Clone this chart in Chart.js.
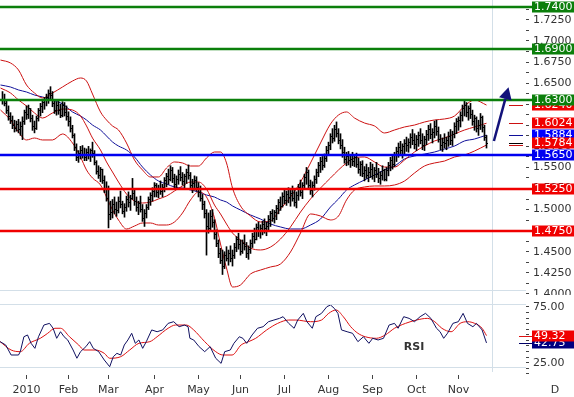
<!DOCTYPE html>
<html>
<head>
<meta charset="utf-8">
<script src="https://cdn.jsdelivr.net/npm/chart.js@4.4.1/dist/chart.umd.min.js"></script>
<style>
  body { margin: 0; background: #fff; }
  #main { position: absolute; left: 0; top: 0; width: 574px; height: 297px; }
  #rsi { position: absolute; left: 0; top: 295px; width: 574px; height: 102px; background: #fff; }
</style>
</head>
<body>
<div id="main"><canvas id="priceChart"></canvas></div>
<div id="rsi"><canvas id="rsiChart"></canvas></div>
<script>
Chart.defaults.font.family = 'DejaVu Sans';
Chart.defaults.font.size = 11;
Chart.defaults.color = '#333';

// daily bars, x = trading-day index (0 = 1 Jan 2010)
var firstBar = -12;
var highs = [
  1.6400,1.6370,1.6300,1.6230,1.6150,1.6110,1.6060,1.6050,1.6070,1.6040,
  1.6100,1.6180,1.6230,1.6240,1.6200,1.6120,1.6050,1.6110,1.6200,1.6260,
  1.6300,1.6330,1.6370,1.6420,1.6458,1.6400,1.6300,1.6280,1.6300,1.6250,
  1.6280,1.6270,1.6230,1.6160,1.6100,1.6000,1.5900,1.5780,1.5700,1.5750,
  1.5760,1.5730,1.5720,1.5750,1.5720,1.5800,1.5700,1.5580,1.5520,1.5500,
  1.5480,1.5400,1.5330,1.5280,1.5100,1.5120,1.5150,1.5090,1.5150,1.5220,
  1.5100,1.5070,1.5160,1.5210,1.5170,1.5370,1.5250,1.5150,1.5100,1.5160,
  1.5060,1.5000,1.5060,1.5150,1.5200,1.5260,1.5320,1.5310,1.5290,1.5340,
  1.5300,1.5380,1.5430,1.5480,1.5520,1.5500,1.5420,1.5400,1.5470,1.5510,
  1.5440,1.5420,1.5480,1.5530,1.5440,1.5360,1.5400,1.5390,1.5320,1.5280,
  1.5180,1.5100,1.5000,1.4960,1.4990,1.5000,1.4880,1.4760,1.4640,1.4540,
  1.4520,1.4500,1.4560,1.4520,1.4570,1.4520,1.4600,1.4680,1.4720,1.4640,
  1.4640,1.4700,1.4610,1.4570,1.4640,1.4720,1.4780,1.4830,1.4850,1.4820,
  1.4860,1.4890,1.4850,1.4930,1.4980,1.5000,1.4990,1.5050,1.5120,1.5150,
  1.5200,1.5240,1.5220,1.5260,1.5230,1.5280,1.5230,1.5210,1.5300,1.5350,
  1.5320,1.5420,1.5500,1.5470,1.5350,1.5330,1.5400,1.5480,1.5560,1.5620,
  1.5630,1.5660,1.5750,1.5800,1.5900,1.5960,1.6000,1.6040,1.5960,1.5900,
  1.5830,1.5740,1.5680,1.5690,1.5640,1.5680,1.5650,1.5670,1.5610,1.5570,
  1.5580,1.5510,1.5540,1.5500,1.5560,1.5540,1.5500,1.5560,1.5490,1.5450,
  1.5520,1.5480,1.5500,1.5560,1.5620,1.5650,1.5680,1.5740,1.5790,1.5810,
  1.5780,1.5830,1.5860,1.5840,1.5900,1.5950,1.5900,1.5880,1.5920,1.5960,
  1.5900,1.5870,1.5940,1.6000,1.6020,1.5960,1.6050,1.6060,1.5980,1.5890,
  1.5850,1.5900,1.5860,1.5920,1.5950,1.5930,1.6030,1.6080,1.6100,1.6160,
  1.6240,1.6300,1.6270,1.6230,1.6260,1.6180,1.6120,1.6100,1.6060,1.6140,
  1.6110,1.6000,1.5880
];
var lows = [
  1.6250,1.6230,1.6140,1.6060,1.6020,1.5960,1.5920,1.5930,1.5910,1.5880,
  1.5830,1.6010,1.6070,1.6080,1.6040,1.5940,1.5910,1.5950,1.6050,1.6110,
  1.6150,1.6190,1.6230,1.6260,1.6300,1.6220,1.6140,1.6120,1.6130,1.6090,
  1.6100,1.6110,1.6060,1.5990,1.5920,1.5850,1.5700,1.5580,1.5560,1.5600,
  1.5610,1.5580,1.5580,1.5600,1.5570,1.5620,1.5530,1.5420,1.5370,1.5330,
  1.5310,1.5200,1.5100,1.4783,1.4880,1.4900,1.4950,1.4920,1.4960,1.5020,
  1.4950,1.4910,1.4980,1.5030,1.4990,1.5120,1.5050,1.4980,1.4940,1.4970,
  1.4860,1.4800,1.4900,1.5000,1.5050,1.5100,1.5150,1.5150,1.5140,1.5180,
  1.5150,1.5210,1.5270,1.5300,1.5340,1.5320,1.5260,1.5250,1.5300,1.5340,
  1.5290,1.5260,1.5310,1.5360,1.5260,1.5200,1.5230,1.5220,1.5150,1.5100,
  1.5000,1.4900,1.4460,1.4720,1.4740,1.4790,1.4650,1.4560,1.4430,1.4360,
  1.4230,1.4300,1.4390,1.4340,1.4380,1.4330,1.4420,1.4500,1.4530,1.4460,
  1.4480,1.4520,1.4430,1.4410,1.4480,1.4550,1.4600,1.4640,1.4680,1.4660,
  1.4700,1.4720,1.4690,1.4760,1.4800,1.4860,1.4840,1.4880,1.4950,1.4990,
  1.5030,1.5070,1.5050,1.5080,1.5040,1.5100,1.5040,1.5020,1.5110,1.5160,
  1.5130,1.5240,1.5300,1.5250,1.5180,1.5150,1.5230,1.5310,1.5390,1.5440,
  1.5470,1.5500,1.5570,1.5640,1.5710,1.5790,1.5810,1.5860,1.5780,1.5720,
  1.5620,1.5550,1.5520,1.5530,1.5500,1.5520,1.5510,1.5500,1.5430,1.5400,
  1.5390,1.5340,1.5370,1.5330,1.5380,1.5360,1.5330,1.5380,1.5320,1.5300,
  1.5350,1.5340,1.5340,1.5400,1.5460,1.5480,1.5510,1.5570,1.5620,1.5640,
  1.5610,1.5660,1.5690,1.5680,1.5730,1.5770,1.5720,1.5700,1.5750,1.5780,
  1.5710,1.5700,1.5770,1.5820,1.5840,1.5790,1.5850,1.5880,1.5800,1.5710,
  1.5690,1.5730,1.5710,1.5750,1.5770,1.5760,1.5850,1.5900,1.5940,1.5980,
  1.6050,1.6110,1.6100,1.6060,1.6080,1.6000,1.5940,1.5920,1.5880,1.5950,
  1.5920,1.5820,1.5730
];
var closes = [
  1.6300,1.6260,1.6170,1.6100,1.6060,1.6000,1.5960,1.6010,1.5950,1.5990,
  1.6050,1.6150,1.6130,1.6200,1.6080,1.5980,1.5960,1.6080,1.6170,1.6220,
  1.6270,1.6300,1.6330,1.6380,1.6350,1.6260,1.6180,1.6240,1.6170,1.6120,
  1.6230,1.6150,1.6100,1.6040,1.5960,1.5880,1.5740,1.5620,1.5660,1.5700,
  1.5650,1.5620,1.5680,1.5640,1.5700,1.5660,1.5560,1.5450,1.5400,1.5470,
  1.5350,1.5240,1.5130,1.4940,1.4960,1.5060,1.5000,1.4990,1.5100,1.5060,
  1.4980,1.5020,1.5120,1.5080,1.5130,1.5190,1.5100,1.5030,1.5070,1.5000,
  1.4900,1.4950,1.5030,1.5120,1.5170,1.5220,1.5280,1.5200,1.5250,1.5220,
  1.5260,1.5340,1.5390,1.5360,1.5460,1.5370,1.5300,1.5360,1.5420,1.5380,
  1.5330,1.5390,1.5440,1.5400,1.5290,1.5310,1.5350,1.5260,1.5200,1.5130,
  1.5060,1.4950,1.4800,1.4780,1.4920,1.4850,1.4700,1.4600,1.4480,1.4400,
  1.4320,1.4460,1.4420,1.4480,1.4420,1.4460,1.4550,1.4640,1.4580,1.4500,
  1.4600,1.4560,1.4480,1.4530,1.4600,1.4680,1.4650,1.4790,1.4740,1.4780,
  1.4820,1.4770,1.4800,1.4880,1.4950,1.4900,1.4960,1.5010,1.5080,1.5040,
  1.5150,1.5110,1.5180,1.5140,1.5190,1.5130,1.5090,1.5170,1.5260,1.5200,
  1.5290,1.5380,1.5440,1.5280,1.5230,1.5290,1.5360,1.5440,1.5520,1.5570,
  1.5520,1.5610,1.5700,1.5760,1.5870,1.5840,1.5950,1.5900,1.5820,1.5760,
  1.5680,1.5600,1.5630,1.5580,1.5600,1.5570,1.5620,1.5540,1.5480,1.5530,
  1.5430,1.5460,1.5400,1.5440,1.5480,1.5400,1.5460,1.5420,1.5370,1.5410,
  1.5460,1.5360,1.5460,1.5520,1.5580,1.5540,1.5640,1.5690,1.5740,1.5700,
  1.5750,1.5780,1.5760,1.5800,1.5850,1.5820,1.5770,1.5830,1.5880,1.5820,
  1.5760,1.5830,1.5890,1.5950,1.5890,1.5920,1.5990,1.5930,1.5830,1.5760,
  1.5800,1.5780,1.5820,1.5870,1.5820,1.5890,1.5990,1.6040,1.6060,1.6120,
  1.6200,1.6240,1.6150,1.6200,1.6130,1.6050,1.6080,1.5960,1.6000,1.6090,
  1.5970,1.5850,1.5784
];

// bollinger bands and moving average, read at these bar positions
var bandIdx = [-13,-8,-4,0,4,8,13,18,23,27,30,33,37,40,43,46,50,54,58,62,
  66,70,74,78,82,86,90,94,97,100,103,107,112,117,122,127,132,137,142,147,
  152,156,160,164,169,174,179,184,189,194,199,204,209,214,219,224,230];
var upperBand = [
  1.6774,1.6739,1.6656,1.6478,1.6383,1.6324,1.6383,1.6454,1.6525,1.6561,
  1.6525,1.6371,1.6158,1.6063,1.5992,1.5944,1.5790,1.5588,1.5470,1.5387,
  1.5387,1.5493,1.5565,1.5553,1.5517,1.5517,1.5612,1.5683,1.5683,1.5553,
  1.5256,1.5043,1.4924,1.4853,1.4865,1.5007,1.5149,1.5327,1.5553,1.5790,
  1.6015,1.6122,1.6158,1.6086,1.6027,1.5992,1.5909,1.5944,1.5980,1.6003,
  1.6039,1.6063,1.6075,1.6110,1.6229,1.6300,1.6240];
var middleBand = [
  1.6442,1.6383,1.6300,1.6229,1.6146,1.6086,1.6146,1.6193,1.6181,1.6110,
  1.5992,1.5849,1.5707,1.5565,1.5446,1.5327,1.5185,1.5102,1.5078,1.5090,
  1.5126,1.5161,1.5221,1.5280,1.5327,1.5327,1.5244,1.5054,1.4948,1.4829,
  1.4722,1.4639,1.4544,1.4521,1.4556,1.4651,1.4794,1.4971,1.5126,1.5256,
  1.5375,1.5470,1.5553,1.5612,1.5624,1.5565,1.5505,1.5505,1.5588,1.5683,
  1.5754,1.5814,1.5849,1.5897,1.5944,1.5980,1.6024];
var lowerBand = [
  1.6181,1.6063,1.5920,1.5826,1.5849,1.5826,1.5826,1.5897,1.5790,1.5624,
  1.5470,1.5375,1.5292,1.5149,1.4995,1.4876,1.4770,1.4805,1.4841,1.4841,
  1.4817,1.4817,1.4853,1.4960,1.5114,1.5209,1.5149,1.4900,1.4592,1.4307,
  1.4082,1.4106,1.4236,1.4283,1.4319,1.4355,1.4497,1.4722,1.4948,1.4924,
  1.4877,1.4924,1.5114,1.5232,1.5268,1.5280,1.5280,1.5292,1.5339,1.5434,
  1.5517,1.5553,1.5576,1.5624,1.5648,1.5695,1.5766];
var movingAvg = [
  1.6478,1.6454,1.6419,1.6395,1.6359,1.6336,1.6300,1.6253,1.6158,1.6110,
  1.6063,1.6003,1.5944,1.5873,1.5802,1.5754,1.5707,1.5624,1.5505,1.5410,
  1.5339,1.5304,1.5268,1.5256,1.5232,1.5209,1.5173,1.5149,1.5114,1.5090,
  1.5043,1.4995,1.4936,1.4888,1.4829,1.4794,1.4770,1.4770,1.4817,1.4888,
  1.5031,1.5126,1.5232,1.5292,1.5351,1.5410,1.5470,1.5517,1.5600,1.5636,
  1.5659,1.5683,1.5719,1.5754,1.5814,1.5837,1.5884];

// support / resistance levels
var levels = [1.7400, 1.6900, 1.6300, 1.5650, 1.5250, 1.4750];
var levelColors = ['#0b7f0b', '#0b7f0b', '#0b7f0b', '#0000f0', '#f00000', '#f00000'];

// last values shown on the price axis
var lastUpper = 1.6240, lastMiddle = 1.6024, lastMA = 1.5884, lastClose = 1.5784, lastLower = 1.5766;

var priceTicks = [1.400,1.425,1.450,1.475,1.500,1.525,1.550,1.575,1.600,1.625,1.650,1.675,1.700,1.725];

var monthIdx = [0, 21, 41, 64, 86, 107, 129, 151, 173, 195, 216];
var monthNames = ['2010', 'Feb', 'Mar', 'Apr', 'May', 'Jun', 'Jul', 'Aug', 'Sep', 'Oct', 'Nov'];

// RSI and its signal line
var rsiIdx = [-13.2,-10.4,-7.7,-4.0,-3.1,-1.3,0.5,2.3,4.2,6.0,8.7,11.5,13.3,15.1,17.0,18.8,20.6,23.3,25.2,27.0,
  29.7,31.6,33.4,36.1,38.9,41.6,43.4,45.2,47.1,48.9,50.7,52.6,54.4,56.2,58.1,59.9,62.6,65.3,68.1,70.8,
  73.6,76.3,79.0,80.8,81.7,83.6,86.3,89.1,91.8,94.6,97.3,99.1,101.9,103.7,106.4,108.2,110.1,112.8,115.5,118.3,
  121.0,123.7,126.5,128.3,131.1,133.8,135.6,138.4,140.2,142.9,144.7,147.5,150.2,152.0,153.9,155.7,157.5,160.3,163.0,165.7,
  168.5,171.2,173.1,175.8,178.5,181.3,184.0,185.8,188.6,191.3,194.0,196.8,199.5,202.2,205.0,206.8,208.6,210.5,213.2,215.9,
  218.3,220.5,223.2,225.0,227.8,230];
var rsiVal = [43.9,40.9,31.9,31.9,34.9,48.3,49.9,42.4,37.9,48.3,58.8,60.3,55.9,46.9,52.8,48.3,45.4,36.4,29.0,34.9,
  39.4,43.9,37.9,34.9,27.4,21.4,30.4,33.4,31.9,40.9,45.4,51.4,42.4,45.4,37.9,43.9,54.4,52.8,54.4,60.3,
  61.8,57.3,58.8,57.3,46.9,45.4,39.4,34.9,39.4,29.0,24.4,34.9,36.4,42.4,48.3,46.9,42.4,49.9,55.9,57.3,
  61.8,63.3,64.8,66.3,60.3,55.9,63.3,69.3,61.8,55.9,66.3,69.3,75.3,76.8,73.8,69.3,54.4,52.8,51.4,43.9,
  48.3,42.4,46.9,45.4,46.9,58.8,60.3,55.9,66.3,64.8,61.8,66.3,69.3,64.8,55.9,52.8,46.9,51.4,60.3,61.8,
  69.3,60.3,57.3,60.3,54.4,42.75];
var sigIdx = [-13.2,-7.7,-3.1,1.4,6.9,10.6,14.2,17.0,21.5,26.1,28.8,34.3,38.9,41.6,47.1,51.6,56.2,61.7,65.3,70.8,
  74.5,79.9,83.6,89.1,94.6,98.2,102.8,107.3,111.0,114.6,120.1,125.6,131.1,134.7,142.0,147.5,151.1,154.8,158.4,162.1,
  165.7,169.4,174.9,179.4,184.0,189.5,195.0,200.4,204.1,207.7,212.3,216.8,220.5,224.1,227.8,230];
var sigVal = [43.9,36.4,34.9,42.4,46.9,51.4,55.9,55.9,48.3,40.9,36.4,36.4,33.4,29.0,30.4,36.4,42.4,43.9,48.3,55.9,
  58.8,58.8,54.4,43.9,34.9,31.9,31.9,40.9,43.9,46.9,54.4,60.3,63.3,63.3,61.8,63.3,69.3,72.3,66.3,57.3,
  51.4,48.3,46.9,49.9,55.9,60.3,63.3,64.8,61.8,55.9,52.8,60.3,61.8,60.3,55.9,49.32];
var rsiTicks = [15, 20, 25, 30, 35, 40, 45, 50, 55, 60, 65, 70, 75];
var rsiLabelled = [25, 75];

// trend arrow (bar index, price)
var arrowFrom = [233.7, 1.5814];
var arrowTo = [241.0, 1.6451];

// 2 px per bar, bar centres on half pixels
var xMin = -13.25, xMax = 249.75, plotEnd = 232.75;

function pts(xs, ys) {
  return xs.map(function (v, k) { return { x: v, y: ys[k] }; });
}

function noPad(s) {
  s.paddingTop = 0; s.paddingBottom = 0; s.paddingLeft = 0; s.paddingRight = 0;
}

// right-hand close tick
var closeTick = document.createElement('canvas');
closeTick.width = 5; closeTick.height = 1;
var tc = closeTick.getContext('2d');
tc.fillStyle = '#000';
tc.fillRect(3, 0, 1, 1);

function valueBox(ctx, py, text, color) {
  ctx.fillStyle = color;
  ctx.fillRect(532, Math.round(py) - 5.5, 42, 11);
  ctx.fillStyle = '#fff';
  ctx.font = '11px "DejaVu Sans"';
  ctx.textAlign = 'left';
  ctx.textBaseline = 'middle';
  ctx.fillText(text, 534, Math.round(py) + 0.5);
}

function dash(ctx, py, x0, x1, color) {
  ctx.strokeStyle = color;
  ctx.lineWidth = 1;
  ctx.beginPath();
  ctx.moveTo(x0, Math.round(py) + 0.5);
  ctx.lineTo(x1, Math.round(py) + 0.5);
  ctx.stroke();
}

var priceOverlay = {
  id: 'priceOverlay',
  afterDatasetsDraw: function (chart) {
    var ctx = chart.ctx, area = chart.chartArea, x = chart.scales.x, y = chart.scales.y;
    ctx.save();
    ctx.strokeStyle = '#d3dfe8';
    ctx.lineWidth = 1;
    var xr = Math.round(x.getPixelForValue(plotEnd)) + 0.5;
    ctx.beginPath(); ctx.moveTo(xr, 0); ctx.lineTo(xr, area.bottom); ctx.stroke();
    ctx.beginPath(); ctx.moveTo(0, area.bottom - 6.5); ctx.lineTo(area.right, area.bottom - 6.5); ctx.stroke();

    levels.forEach(function (v, k) {
      var py = Math.round(y.getPixelForValue(v));
      ctx.strokeStyle = levelColors[k];
      ctx.lineWidth = 2.5;
      ctx.beginPath(); ctx.moveTo(area.left, py); ctx.lineTo(532, py); ctx.stroke();
    });

    dash(ctx, y.getPixelForValue(lastUpper), 509, 523, '#cc1111');
    dash(ctx, y.getPixelForValue(lastMiddle), 509, 523, '#cc1111');
    dash(ctx, y.getPixelForValue(lastMA), 509, 523, '#101099');
    dash(ctx, y.getPixelForValue(lastClose), 509, 523, '#000');
    dash(ctx, y.getPixelForValue(lastLower), 509, 523, '#cc1111');

    valueBox(ctx, y.getPixelForValue(lastUpper), lastUpper.toFixed(4), '#f00000');
    valueBox(ctx, y.getPixelForValue(lastMiddle), lastMiddle.toFixed(4), '#f00000');
    valueBox(ctx, y.getPixelForValue(lastMA), lastMA.toFixed(4), '#0000ff');
    valueBox(ctx, y.getPixelForValue(lastClose), lastClose.toFixed(4), '#f00000');
    levels.forEach(function (v, k) {
      valueBox(ctx, y.getPixelForValue(v), v.toFixed(4), levelColors[k]);
    });

    // arrow
    var x0 = x.getPixelForValue(arrowFrom[0]), y0 = y.getPixelForValue(arrowFrom[1]);
    var x1 = x.getPixelForValue(arrowTo[0]), y1 = y.getPixelForValue(arrowTo[1]);
    var ang = Math.atan2(y1 - y0, x1 - x0);
    var hl = 12, hw = 6.5;
    var bx = x1 - hl * Math.cos(ang), by = y1 - hl * Math.sin(ang);
    ctx.strokeStyle = '#12127a';
    ctx.fillStyle = '#12127a';
    ctx.lineWidth = 2.5;
    ctx.beginPath(); ctx.moveTo(x0, y0); ctx.lineTo(bx, by); ctx.stroke();
    ctx.beginPath();
    ctx.moveTo(x1, y1);
    ctx.lineTo(bx + hw * Math.sin(ang), by - hw * Math.cos(ang));
    ctx.lineTo(bx - hw * Math.sin(ang), by + hw * Math.cos(ang));
    ctx.closePath();
    ctx.fill();
    ctx.restore();
  }
};

new Chart(document.getElementById('priceChart'), {
  type: 'line',
  data: {
    datasets: [
      {
        type: 'bar',
        data: highs.map(function (h, k) { return { x: firstBar + k, y: [lows[k], h] }; }),
        backgroundColor: '#000',
        borderWidth: 0,
        barThickness: 1
      },
      {
        data: closes.map(function (c, k) { return { x: firstBar + k, y: c }; }),
        showLine: false,
        pointStyle: closeTick,
        pointRadius: 1
      },
      { data: pts(bandIdx, upperBand), borderColor: '#cc1111', borderWidth: 1, pointRadius: 0, cubicInterpolationMode: 'monotone' },
      { data: pts(bandIdx, middleBand), borderColor: '#cc1111', borderWidth: 1, pointRadius: 0, cubicInterpolationMode: 'monotone' },
      { data: pts(bandIdx, lowerBand), borderColor: '#cc1111', borderWidth: 1, pointRadius: 0, cubicInterpolationMode: 'monotone' },
      { data: pts(bandIdx, movingAvg), borderColor: '#101099', borderWidth: 1, pointRadius: 0, cubicInterpolationMode: 'monotone' }
    ]
  },
  options: {
    responsive: true,
    maintainAspectRatio: false,
    animation: false,
    devicePixelRatio: 1,
    layout: { padding: 0, autoPadding: false },
    plugins: { legend: { display: false }, tooltip: { enabled: false } },
    scales: {
      x: { type: 'linear', min: xMin, max: xMax, offset: false, display: false },
      y: {
        position: 'right',
        min: 1.39631,
        max: 1.74862,
        afterFit: function (s) { s.width = 48; noPad(s); },
        afterBuildTicks: function (axis) {
          var t = [];
          priceTicks.forEach(function (v) { t.push({ value: v }); t.push({ value: v + 0.0125 }); });
          axis.ticks = t;
        },
        border: { display: false },
        grid: { drawOnChartArea: false, tickLength: 3, tickColor: '#444' },
        ticks: {
          autoSkip: false,
          padding: 4,
          color: '#333',
          callback: function (v) {
            return Math.abs(v * 40 - Math.round(v * 40)) < 1e-6 ? v.toFixed(4) : '';
          }
        }
      }
    }
  },
  plugins: [priceOverlay]
});

var rsiOverlay = {
  id: 'rsiOverlay',
  afterDatasetsDraw: function (chart) {
    var ctx = chart.ctx, area = chart.chartArea, x = chart.scales.x, y = chart.scales.y;
    ctx.save();
    ctx.strokeStyle = '#d3dfe8';
    ctx.lineWidth = 1;
    ctx.beginPath(); ctx.moveTo(0, area.top + 0.5); ctx.lineTo(area.right, area.top + 0.5); ctx.stroke();
    ctx.beginPath(); ctx.moveTo(0, area.bottom - 7.5); ctx.lineTo(area.right, area.bottom - 7.5); ctx.stroke();
    var xr = Math.round(x.getPixelForValue(plotEnd)) + 0.5;
    ctx.beginPath(); ctx.moveTo(xr, 0); ctx.lineTo(xr, area.bottom - 3); ctx.stroke();

    ctx.fillStyle = '#333';
    ctx.font = 'bold 11px "DejaVu Sans"';
    ctx.textAlign = 'center';
    ctx.textBaseline = 'middle';
    ctx.fillText('RSI', 414, 52);
    ctx.font = '11px "DejaVu Sans"';
    ctx.fillText('D', 555, 95);

    var lastRsi = rsiVal[rsiVal.length - 1], lastSig = sigVal[sigVal.length - 1];
    dash(ctx, y.getPixelForValue(lastRsi), 519, 532, '#000066');
    dash(ctx, y.getPixelForValue(lastSig), 519, 532, '#dd1111');
    valueBox(ctx, y.getPixelForValue(lastRsi), lastRsi.toFixed(2), '#000080');
    valueBox(ctx, y.getPixelForValue(lastSig), lastSig.toFixed(2), '#f00000');
    ctx.restore();
  }
};

new Chart(document.getElementById('rsiChart'), {
  type: 'line',
  data: {
    datasets: [
      { data: pts(rsiIdx, rsiVal), borderColor: '#101060', borderWidth: 1, pointRadius: 0 },
      { data: pts(sigIdx, sigVal), borderColor: '#dd1111', borderWidth: 1, pointRadius: 0, cubicInterpolationMode: 'monotone' }
    ]
  },
  options: {
    responsive: true,
    maintainAspectRatio: false,
    animation: false,
    devicePixelRatio: 1,
    layout: { padding: { top: 9 }, autoPadding: false },
    plugins: { legend: { display: false }, tooltip: { enabled: false } },
    scales: {
      x: {
        type: 'linear', min: xMin, max: xMax, offset: false,
        afterFit: function (s) { s.height = 22; noPad(s); },
        afterBuildTicks: function (axis) { axis.ticks = monthIdx.map(function (v) { return { value: v }; }); },
        border: { display: false },
        grid: { drawOnChartArea: false, tickLength: 4, tickColor: '#444' },
        ticks: {
          autoSkip: false, maxRotation: 0, padding: 5, color: '#333',
          callback: function (v, k) { return monthNames[k]; }
        }
      },
      y: {
        position: 'right', min: 13.96, max: 77.69,
        afterFit: function (s) { s.width = 48; noPad(s); },
        afterBuildTicks: function (axis) { axis.ticks = rsiTicks.map(function (v) { return { value: v }; }); },
        border: { display: false },
        grid: { drawOnChartArea: false, tickLength: 3, tickColor: '#444' },
        ticks: {
          autoSkip: false, padding: 4, color: '#333',
          callback: function (v) { return rsiLabelled.indexOf(v) >= 0 ? v.toFixed(2) : ''; }
        }
      }
    }
  },
  plugins: [rsiOverlay]
});
</script>
</body>
</html>
